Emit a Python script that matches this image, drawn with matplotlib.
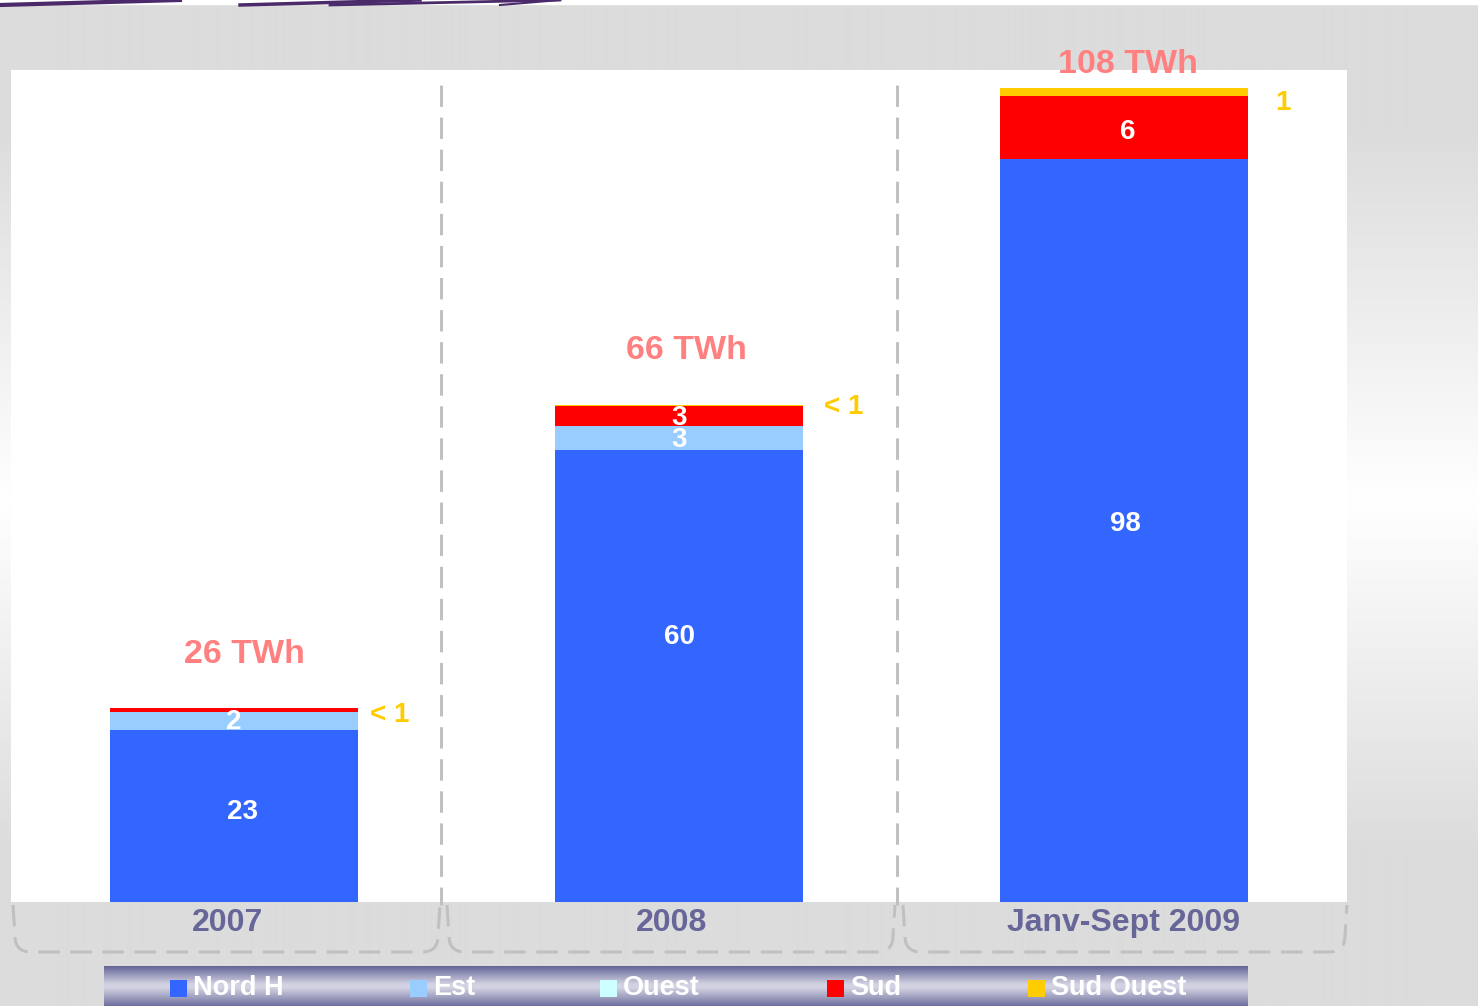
import numpy as np
import matplotlib
matplotlib.use("Agg")
import matplotlib.pyplot as plt
from matplotlib.patches import Rectangle, PathPatch
from matplotlib.path import Path
from matplotlib.lines import Line2D
import matplotlib.transforms as mtransforms

# ---------------- data ----------------
categories = ["2007", "2008", "Janv-Sept 2009"]
series_names = ["Nord H", "Est", "Ouest", "Sud", "Sud Ouest"]
nord_h = [22.9, 60.1, 98.8]
est = [2.4, 3.2, 0.0]
ouest = [0.0, 0.0, 0.0]
sud = [0.5, 2.65, 8.4]
sud_ouest = [0.0, 0.15, 1.1]
total_labels = ["26 TWh", "66 TWh", "108 TWh"]
nord_labels = ["23", "60", "98"]
est_labels = ["2", "3", ""]
sud_labels = ["", "3", "6"]
sud_ouest_labels = ["< 1", "< 1", "1"]

# ---------------- style ----------------
W, H = 1478, 1006
colors = ["#3366FF", "#99CCFF", "#CCFFFF", "#FF0000", "#FFCC00"]
FONT = "Liberation Sans"
plt.rcParams["font.family"] = [FONT, "DejaVu Sans"]

def fx(x):
    return x / W

def fy(y):
    return 1 - y / H

def px2pt(p):
    return p * 72 / 100

fig = plt.figure(figsize=(W / 100, H / 100), dpi=100)

# background gradient
bg = fig.add_axes([0, 0, 1, 1])
rows = np.arange(H)
vals = np.interp(rows, [0, 130, 500, 850, H], [0xDC, 0xDC, 0xFF, 0xDC, 0xDC]) / 255.0
img = np.repeat(vals[:, None], 2, axis=1)
bg.imshow(np.dstack([img, img, img]), aspect="auto", extent=[0, 1, 0, 1], origin="upper")
bg.set_xlim(0, 1)
bg.set_ylim(0, 1)
bg.axis("off")
# top white strip with purple swooshes
bg.add_patch(Rectangle((0, fy(4)), 1, 4 / H, transform=fig.transFigure, color="white", zorder=2))
for (x0, x1, lw) in [(0, 180, 3.0), (240, 420, 2.5), (330, 560, 2.0), (500, 560, 1.5)]:
    bg.add_line(Line2D([fx(x0), fx(x1)], [fy(5), fy(0)], transform=fig.transFigure,
                       color="#4B2A6B", lw=lw, zorder=3))

# main axes
ax = fig.add_axes([fx(11), fy(902), fx(1336), 832 / H])
ax.set_facecolor("white")
x = np.arange(len(categories))
bw = 0.557
series = [nord_h, est, ouest, sud, sud_ouest]
bottom = np.zeros(len(categories))
bottoms = []
for vals_s, col, name in zip(series, colors, series_names):
    bottoms.append(bottom.copy())
    ax.bar(x, vals_s, bw, bottom=bottom, color=col, linewidth=0, label=name, zorder=3)
    bottom = bottom + np.array(vals_s)
totals = bottom
ax.set_xlim(-0.501, 2.501)
ax.set_ylim(0, 832 / 7.52)
for s in ax.spines.values():
    s.set_visible(False)
ax.set_yticks([])
ax.set_xticks(x)
ax.set_xticklabels(categories, fontsize=23, fontweight="bold", color="#666699")
ax.tick_params(axis="x", length=0, pad=4)
for lbl, xoff in zip(ax.get_xticklabels(), [-6, -7, -1]):
    lbl.set_transform(lbl.get_transform() +
                      mtransforms.ScaledTranslation(xoff / 100, 0, fig.dpi_scale_trans))

# value labels inside segments
def seg_labels(idx, labels, dx, dy, fs=20):
    for i, t in enumerate(labels):
        if t:
            yc = bottoms[idx][i] + series[idx][i] / 2
            ax.annotate(t, (x[i], yc), xytext=(px2pt(dx[i]), -px2pt(dy[i])),
                        textcoords="offset points", ha="center", va="center", color="white",
                        fontsize=fs, fontweight="bold", zorder=5)

seg_labels(0, nord_labels, [9, 0, 1], [-4, -39, -7])
seg_labels(1, est_labels, [0, 0, 0], [1, 2, 0])
seg_labels(3, sud_labels, [0, 0, 4], [0, 2, 5])

# totals
total_offsets = [53, 54, 23]
total_dx = [10, 7, 4]
for i, t in enumerate(total_labels):
    ax.annotate(t, (x[i], totals[i]), xytext=(px2pt(total_dx[i]), px2pt(total_offsets[i])),
                textcoords="offset points", ha="center", va="center", color="#FF8080",
                fontsize=24.5, fontweight="bold", annotation_clip=False, zorder=6)

# small Sud Ouest labels
so_dx = [12, 21, 27]
so_dy = [-7, -2, -15]
for i, t in enumerate(sud_ouest_labels):
    ax.annotate(t, (x[i] + bw / 2, totals[i]), xytext=(px2pt(so_dx[i]), px2pt(so_dy[i])),
                textcoords="offset points", ha="left", va="center", color="#FFCC00",
                fontsize=20, fontweight="bold", annotation_clip=False, zorder=6)

# dashed separators and brackets
dash_color = "#C0C0C0"
for xs in [441, 897]:
    fig.add_artist(Line2D([fx(xs), fx(xs)], [fy(85), fy(905)], color=dash_color,
                          lw=2.2, linestyle=(0, (7, 3.5)), zorder=10))

def bracket(xl, xr, ytop=905, ybot=952, r=16):
    verts = [(xl, ytop), (xl + 2, ybot - r), (xl + 2, ybot), (xl + r + 2, ybot),
             (xr - r - 2, ybot), (xr - 2, ybot), (xr - 2, ybot - r), (xr, ytop)]
    codes = [Path.MOVETO, Path.LINETO, Path.CURVE3, Path.CURVE3,
             Path.LINETO, Path.CURVE3, Path.CURVE3, Path.LINETO]
    verts = [(fx(a), fy(b)) for a, b in verts]
    p = PathPatch(Path(verts, codes), transform=fig.transFigure, fill=False,
                  edgecolor=dash_color, lw=2.2, linestyle=(0, (7, 3.5)), zorder=10)
    fig.add_artist(p)

bracket(13, 440)
bracket(447, 895)
bracket(903, 1347)

# legend band
lax = fig.add_axes([fx(104), 0, fx(1248 - 104), 40 / H])
t = np.linspace(0, 1, 40)
prof = np.interp(t, [0, 0.45, 0.55, 1], [0, 1, 1, 0.1])
dark = np.array([0x66, 0x66, 0x99]) / 255.0
light = np.array([0xD2, 0xD2, 0xE2]) / 255.0
grad = dark[None, :] * (1 - prof[:, None]) + light[None, :] * prof[:, None]
lax.imshow(np.repeat(grad[:, None, :], 2, axis=1), aspect="auto", extent=[0, 1, 0, 1], origin="upper")
lax.axis("off")

leg_sq_x = [170, 410, 600, 827, 1028]
sq = 17
for name, col, sx in zip(series_names, colors, leg_sq_x):
    fig.add_artist(Rectangle((fx(sx), fy(997)), sq / W, sq / H, transform=fig.transFigure,
                             facecolor=col, edgecolor="none", zorder=12))
    fig.text(fx(sx + sq + 6), fy(988), name, ha="left", va="center", color="white",
             fontsize=19.5, fontweight="bold", zorder=12)

fig.savefig("out.png", dpi=100)
